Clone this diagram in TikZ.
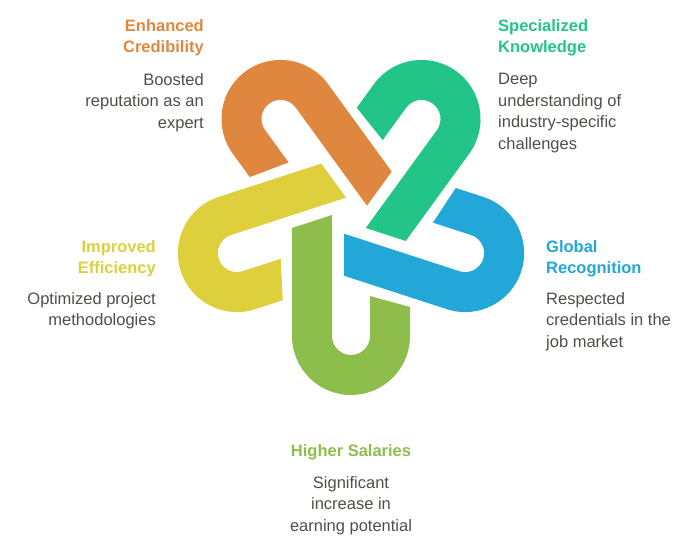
\documentclass[tikz,border=0pt]{standalone}
\usepackage{fontspec}
\setmainfont{Liberation Sans}
\definecolor{cOrange}{HTML}{E0873F}
\definecolor{cGreen}{HTML}{22C587}
\definecolor{cBlue}{HTML}{22A7D8}
\definecolor{cLime}{HTML}{8DBE4B}
\definecolor{cYellow}{HTML}{DDD03C}
\definecolor{cDesc}{HTML}{4F4F47}
\begin{document}
\begin{tikzpicture}[x=1pt,y=1pt,
  ttl/.style={inner sep=0pt,font=\bfseries\fontsize{16.5}{21}\selectfont},
  dsc/.style={inner sep=0pt,text=cDesc,font=\fontsize{16.5}{21.5}\selectfont}]
\useasboundingbox (0,0) rectangle (700,544);
\foreach \a/\c in {0/cLime,72/cBlue,144/cGreen,216/cOrange,288/cYellow}{
  \begin{scope}[shift={(351,328)},rotate=\a]
    \fill[\c] (-59,-12) -- (-59,-120) arc[start angle=180,end angle=360,radius=59]
      -- (59,-91) -- (19,-80) -- (19,-120) arc[start angle=0,end angle=-180,radius=19]
      -- (-19,1) -- cycle;
  \end{scope}
}
% Enhanced Credibility
\node[ttl,text=cOrange,align=right,anchor=north east] (t1) at (204,525) {Enhanced\\Credibility};
\node[dsc,align=right,anchor=north east] (d1) at (204,471) {Boosted\\reputation as an\\expert};
% Specialized Knowledge
\node[ttl,text=cGreen,align=left,anchor=north west] (t2) at (498,525) {Specialized\\Knowledge};
\node[dsc,align=left,anchor=north west] (d2) at (498,471) {Deep\\understanding of\\industry-specific\\challenges};
% Global Recognition
\node[ttl,text=cBlue,align=left,anchor=north west] (t3) at (546,304) {Global\\Recognition};
\node[dsc,align=left,anchor=north west] (d3) at (546,252) {Respected\\credentials in the\\job market};
% Improved Efficiency
\node[ttl,text=cYellow,align=right,anchor=north east] (t4) at (156,304) {Improved\\Efficiency};
\node[dsc,align=right,anchor=north east] (d4) at (156,252) {Optimized project\\methodologies};
% Higher Salaries
\node[ttl,text=cLime,align=center,anchor=north] (t5) at (351,100) {Higher Salaries};
\node[dsc,align=center,anchor=north] (d5) at (351,68) {Significant\\increase in\\earning potential};
\end{tikzpicture}
\end{document}
